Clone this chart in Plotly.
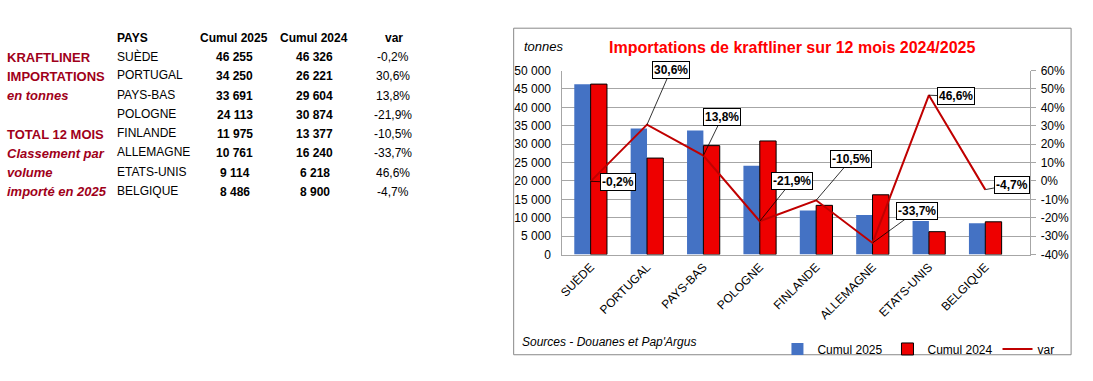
import plotly.graph_objects as go

W, H = 1093, 381

# ---------------- data ----------------
countries = ["SUÈDE", "PORTUGAL", "PAYS-BAS", "POLOGNE", "FINLANDE", "ALLEMAGNE", "ETATS-UNIS", "BELGIQUE"]
cumul_2025 = [46255, 34250, 33691, 24113, 11975, 10761, 9114, 8486]
cumul_2024 = [46326, 26221, 29604, 30874, 13377, 16240, 6218, 8900]
var_pct = [-0.2, 30.6, 13.8, -21.9, -10.5, -33.7, 46.6, -4.7]

left_ticks = [0, 5000, 10000, 15000, 20000, 25000, 30000, 35000, 40000, 45000, 50000]
right_tickvals = [-40, -30, -20, -10, 0, 10, 20, 30, 40, 50, 60]
right_ticktext = ["-40%", "-30%", "-20%", "-10%", "0%", "10%", "20%", "30%", "40%", "50%", "60%"]

left_labels = ["KRAFTLINER", "IMPORTATIONS", "en tonnes", "", "TOTAL 12 MOIS",
               "Classement par", "volume", "importé en 2025"]
left_italic = [False, False, True, False, False, True, True, True]

# label offsets (pixels) of var callouts
label_dx = [27, 24, 19, 32, 35, 44, 27, 27]
label_dy = [1, -55, -39, -40, -41, -32, 1, -5]

FONT = "Liberation Sans, Arial, sans-serif"
BLUE = "#4472C4"
RED = "#EE0000"
DARKRED = "#C00000"
MAROON = "#A0001A"
GRID = "#A6A6A6"


def px(x):
    return x / W


def py(y):
    return 1 - y / H


def fmt_int(v):
    return f"{v:,}".replace(",", " ")


def fmt_pct(v):
    return f"{v:.1f}".replace(".", ",") + "%"


fig = go.Figure()
fig.add_trace(go.Bar(x=countries, y=cumul_2025, name="Cumul 2025",
                     marker=dict(color=BLUE, line=dict(width=0))))
fig.add_trace(go.Bar(x=countries, y=cumul_2024, name="Cumul 2024",
                     marker=dict(color=RED, line=dict(color="black", width=1))))
fig.add_trace(go.Scatter(x=countries, y=var_pct, name="var", yaxis="y2", mode="lines",
                         line=dict(color=DARKRED, width=2)))

annotations = []
# var callouts
for c, v, dx, dy in zip(countries, var_pct, label_dx, label_dy):
    annotations.append(dict(
        x=c, y=v, xref="x", yref="y2", text=f"<b>{fmt_pct(v)}</b>",
        showarrow=True, arrowhead=0, arrowwidth=0.8, arrowcolor="black",
        ax=dx, ay=dy, axref="pixel", ayref="pixel",
        bgcolor="white", bordercolor="black", borderwidth=1, borderpad=1,
        font=dict(family=FONT, size=12, color="black")))

# chart texts
annotations.append(dict(x=px(791), y=py(42), xref="paper", yref="paper", showarrow=False,
                        text="<b>Importations de kraftliner sur 12 mois 2024/2025</b>",
                        font=dict(family=FONT, size=16, color="#FF0000"),
                        xanchor="center", yanchor="middle"))
annotations.append(dict(x=px(519), y=py(41), xref="paper", yref="paper", showarrow=False,
                        text="<i>tonnes</i>", font=dict(family=FONT, size=13, color="black"),
                        xanchor="left", yanchor="middle"))
annotations.append(dict(x=px(517), y=py(348), xref="paper", yref="paper", showarrow=False,
                        text="<i>Sources - Douanes et Pap'Argus</i>",
                        font=dict(family=FONT, size=12, color="black"),
                        xanchor="left", yanchor="middle"))

# table header
hdr_y = 32
for txt, x, anc in [("PAYS", 111, "left"), ("Cumul 2025", 230, "center"),
                    ("Cumul 2024", 310, "center"), ("var", 391, "center")]:
    annotations.append(dict(x=px(x), y=py(hdr_y), xref="paper", yref="paper", showarrow=False,
                            text=f"<b>{txt}</b>", font=dict(family=FONT, size=12, color="black"),
                            xanchor=anc, yanchor="middle"))

# table rows
for i, (c, a, b, v) in enumerate(zip(countries, cumul_2025, cumul_2024, var_pct)):
    yy = 51 + 20 * i
    annotations.append(dict(x=px(111), y=py(yy), xref="paper", yref="paper", showarrow=False,
                            text=c, font=dict(family=FONT, size=12, color="black"),
                            xanchor="left", yanchor="middle"))
    annotations.append(dict(x=px(231), y=py(yy + 1), xref="paper", yref="paper", showarrow=False,
                            text=f"<b>{fmt_int(a)}</b>", font=dict(family=FONT, size=12, color="black"),
                            xanchor="center", yanchor="middle"))
    annotations.append(dict(x=px(311), y=py(yy + 1), xref="paper", yref="paper", showarrow=False,
                            text=f"<b>{fmt_int(b)}</b>", font=dict(family=FONT, size=12, color="black"),
                            xanchor="center", yanchor="middle"))
    annotations.append(dict(x=px(390), y=py(yy + 1), xref="paper", yref="paper", showarrow=False,
                            text=fmt_pct(v), font=dict(family=FONT, size=12, color="black"),
                            xanchor="center", yanchor="middle"))

# left labels
for i, (t, it) in enumerate(zip(left_labels, left_italic)):
    if not t:
        continue
    s = f"<b><i>{t}</i></b>" if it else f"<b>{t}</b>"
    annotations.append(dict(x=0, y=py(52 + 20 * i), xref="paper", yref="paper", showarrow=False,
                            text=s, font=dict(family=FONT, size=13, color=MAROON),
                            xanchor="left", yanchor="middle"))

fig.update_layout(
    width=W, height=H, autosize=False,
    margin=dict(l=0, r=0, t=0, b=0, pad=0),
    paper_bgcolor="white", plot_bgcolor="white",
    font=dict(family=FONT, size=12, color="black"),
    barmode="group", bargap=0.42, bargroupgap=0,
    showlegend=True,
    legend=dict(orientation="h", x=px(776), y=py(355), xanchor="left", yanchor="middle",
                font=dict(family=FONT, size=12, color="black"), bgcolor="rgba(0,0,0,0)",
                traceorder="normal"),
    xaxis=dict(domain=[px(560), px(1030)], tickangle=-45, showline=True, linecolor=GRID,
               linewidth=1, ticks="", showgrid=False, tickfont=dict(size=12)),
    yaxis=dict(domain=[py(257), py(66)], range=[0, 50000], tickvals=left_ticks,
               ticktext=[fmt_int(t) for t in left_ticks], showgrid=True, gridcolor=GRID,
               gridwidth=1, showline=True, linecolor=GRID, linewidth=1, ticks="",
               ticklabelstandoff=8, zeroline=False, tickfont=dict(size=12)),
    yaxis2=dict(overlaying="y", side="right", range=[-40, 60], tickvals=right_tickvals,
                ticktext=right_ticktext, showgrid=False, showline=True, linecolor=GRID,
                linewidth=1, ticks="outside", ticklen=5, tickcolor=GRID, zeroline=False,
                ticklabelstandoff=2, tickfont=dict(size=12)),
    annotations=annotations,
    shapes=[dict(type="rect", xref="paper", yref="paper", x0=px(511), x1=px(1071),
                 y0=py(361), y1=py(22), line=dict(color="#898989", width=1),
                 fillcolor="rgba(0,0,0,0)", layer="below")],
)

fig.write_html(
    "out.html",
    config={"displayModeBar": False},
    post_script=(
        "document.body.style.margin='0';document.body.style.padding='0';"
        "document.documentElement.style.overflow='hidden';"
        "var gd=document.getElementsByClassName('plotly-graph-div')[0];"
        "gd.style.position='absolute';gd.style.left='0px';gd.style.top='0px';"
    ),
)
